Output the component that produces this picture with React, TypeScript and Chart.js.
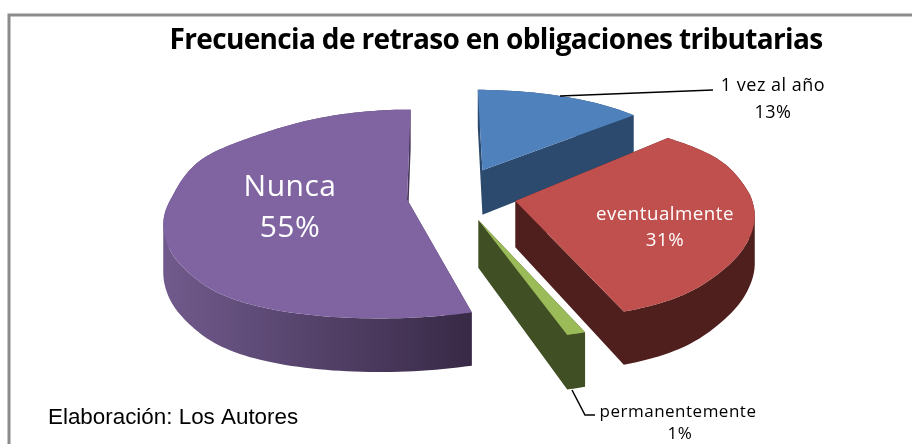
import React, { useEffect, useRef } from "react";
import { Chart, registerables } from "chart.js";

Chart.register(...registerables);

const categories = ["1 vez al año", "eventualmente", "permanentemente", "Nunca"];
const values = [13, 31, 1, 55];
const topColors = ["#4f81bd", "#c0504d", "#9bbb59", "#8064a2"];
const wallColors = ["#2c4a6e", "#4f1f1e", "#404f24", "#5a4670"];
const titleText = "Frecuencia de retraso en obligaciones tributarias";
const creditText = "Elaboración: Los Autores";

const R = 244;
const CX = 462;
const CY = 195;

// View model of the tilted pie: depth coordinate -> horizontal scale, screen height
const viewDepth = [-340, -295, -233, -166, -80, -51, -11, 47, 100, 172, 236, 300, 340];
const viewScale = [0.83, 0.85, 0.865, 0.885, 0.915, 0.93, 0.955, 0.995, 1.025, 1.08, 1.2, 1.3, 1.36];
const viewHeight = [-118, -105, -85, -60, -36, -25, -5, 22, 47, 82, 115, 147, 170];

function lookup(table: number[], v: number) {
  const d = viewDepth;
  if (v <= d[0]) return table[0];
  for (let i = 1; i < d.length; i++) {
    if (v <= d[i]) return table[i - 1] + ((table[i] - table[i - 1]) * (v - d[i - 1])) / (d[i] - d[i - 1]);
  }
  return table[d.length - 1];
}

function smooth(table: number[], v: number) {
  let sum = 0;
  let weight = 0;
  for (let k = -6; k <= 6; k++) {
    const w = 7 - Math.abs(k);
    sum += w * lookup(table, v + k * 6);
    weight += w;
  }
  return sum / weight;
}

function project(u: number, v: number) {
  const f = smooth(viewScale, v);
  const a = v >= 0 ? CX - 0.055 * v : CX + 0.0115 * v;
  return { x: a + f * u, y: CY + smooth(viewHeight, v) };
}

const depth = (v: number) => 46 + 0.03 * v;

type P = { x: number; y: number };

function addPoly(path: Path2D, poly: P[]) {
  let area = 0;
  poly.forEach((p, i) => {
    const q = poly[(i + 1) % poly.length];
    area += p.x * q.y - q.x * p.y;
  });
  const list = area < 0 ? [...poly].reverse() : poly;
  list.forEach((p, j) => (j ? path.lineTo(p.x, p.y) : path.moveTo(p.x, p.y)));
  path.closePath();
}

const depthPlugin = {
  id: "depthPie",
  beforeDatasetsDraw(chart: any) {
    const ctx = chart.ctx as CanvasRenderingContext2D;
    const arcs = chart.getDatasetMeta(0).data;
    ctx.save();
    (ctx as any).filter = "blur(0.5px)";
    [0, 1, 2, 3].forEach((i) => {
      const arc = arcs[i];
      const scale = R / arc.outerRadius;
      const mid = (arc.startAngle + arc.endAngle) / 2;
      const ex = (arc.options.offset || 0) * scale;
      const ou = Math.cos(mid) * ex;
      const ov = Math.sin(mid) * ex;
      const pts: { u: number; v: number }[] = [{ u: ou, v: ov }];
      const steps = Math.max(6, Math.ceil((arc.endAngle - arc.startAngle) * 40));
      for (let s = 0; s <= steps; s++) {
        const a = arc.startAngle + ((arc.endAngle - arc.startAngle) * s) / steps;
        pts.push({ u: ou + Math.cos(a) * R, v: ov + Math.sin(a) * R });
      }
      const top = pts.map((p) => project(p.u, p.v));
      const walls = new Path2D();
      for (let k = 0; k < pts.length; k++) {
        const n = (k + 1) % pts.length;
        const p1 = top[k];
        const p2 = top[n];
        addPoly(walls, [p1, p2, { x: p2.x, y: p2.y + depth(pts[n].v) }, { x: p1.x, y: p1.y + depth(pts[k].v) }]);
      }
      if (i === 3) {
        const g = ctx.createLinearGradient(165, 0, 473, 0);
        g.addColorStop(0, "#705a8c");
        g.addColorStop(1, "#382946");
        ctx.fillStyle = g;
      } else {
        ctx.fillStyle = wallColors[i];
      }
      ctx.fill(walls, "nonzero");
      ctx.beginPath();
      top.forEach((p, j) => (j ? ctx.lineTo(p.x, p.y) : ctx.moveTo(p.x, p.y)));
      ctx.closePath();
      ctx.fillStyle = topColors[i];
      ctx.fill();
    });
    ctx.restore();
    return false;
  },
  afterDraw(chart: any) {
    const ctx = chart.ctx as CanvasRenderingContext2D;
    ctx.save();
    ctx.strokeStyle = "#8c8c8c";
    ctx.lineWidth = 3;
    ctx.beginPath();
    ctx.moveTo(9, 444);
    ctx.lineTo(9, 15);
    ctx.lineTo(912, 15);
    ctx.stroke();

    ctx.fillStyle = "#000";
    ctx.textAlign = "center";
    ctx.textBaseline = "middle";
    ctx.font = 'bold 28px "Open Sans"';
    (ctx as any).letterSpacing = "-0.65px";
    ctx.fillText(titleText, 496, 41);
    (ctx as any).letterSpacing = "0.5px";

    ctx.font = '18px "Open Sans"';
    ctx.fillText(categories[0], 773, 86);
    ctx.fillText(`${values[0]}%`, 773, 113);
    ctx.font = '17px "Open Sans"';
    ctx.fillText(categories[2], 678, 412);
    ctx.fillText(`${values[2]}%`, 680, 434);

    ctx.fillStyle = "#fff";
    ctx.font = '18.7px "Open Sans"';
    ctx.fillText(categories[1], 665, 215);
    ctx.fillText(`${values[1]}%`, 665, 241);
    ctx.font = '30px "Open Sans"';
    ctx.fillText(categories[3], 290, 187);
    ctx.fillText(`${values[3]}%`, 290, 228);

    (ctx as any).letterSpacing = "0px";
    ctx.textAlign = "left";
    ctx.fillStyle = "#000";
    ctx.font = '22.4px "Liberation Sans"';
    ctx.fillText(creditText, 48, 418);

    ctx.strokeStyle = "#000";
    ctx.lineWidth = 1.5;
    ctx.beginPath();
    ctx.moveTo(560, 96);
    ctx.lineTo(713, 90);
    ctx.stroke();
    ctx.beginPath();
    ctx.moveTo(572, 390);
    ctx.lineTo(585, 415);
    ctx.lineTo(595, 415);
    ctx.stroke();
    ctx.restore();
  },
};

export default function App() {
  const ref = useRef<HTMLCanvasElement>(null);
  useEffect(() => {
    const chart = new Chart(ref.current!, {
      type: "pie",
      data: {
        labels: categories,
        datasets: [{ data: values, backgroundColor: topColors, borderWidth: 0, offset: 42 }],
      },
      options: {
        responsive: false,
        animation: false,
        radius: 180,
        plugins: { legend: { display: false }, tooltip: { enabled: false } },
      } as any,
      plugins: [depthPlugin],
    });
    return () => chart.destroy();
  }, []);
  return (
    <canvas
      ref={ref}
      width={912}
      height={444}
      style={{ position: "fixed", left: 0, top: 0, display: "block", background: "#fff" }}
    />
  );
}
